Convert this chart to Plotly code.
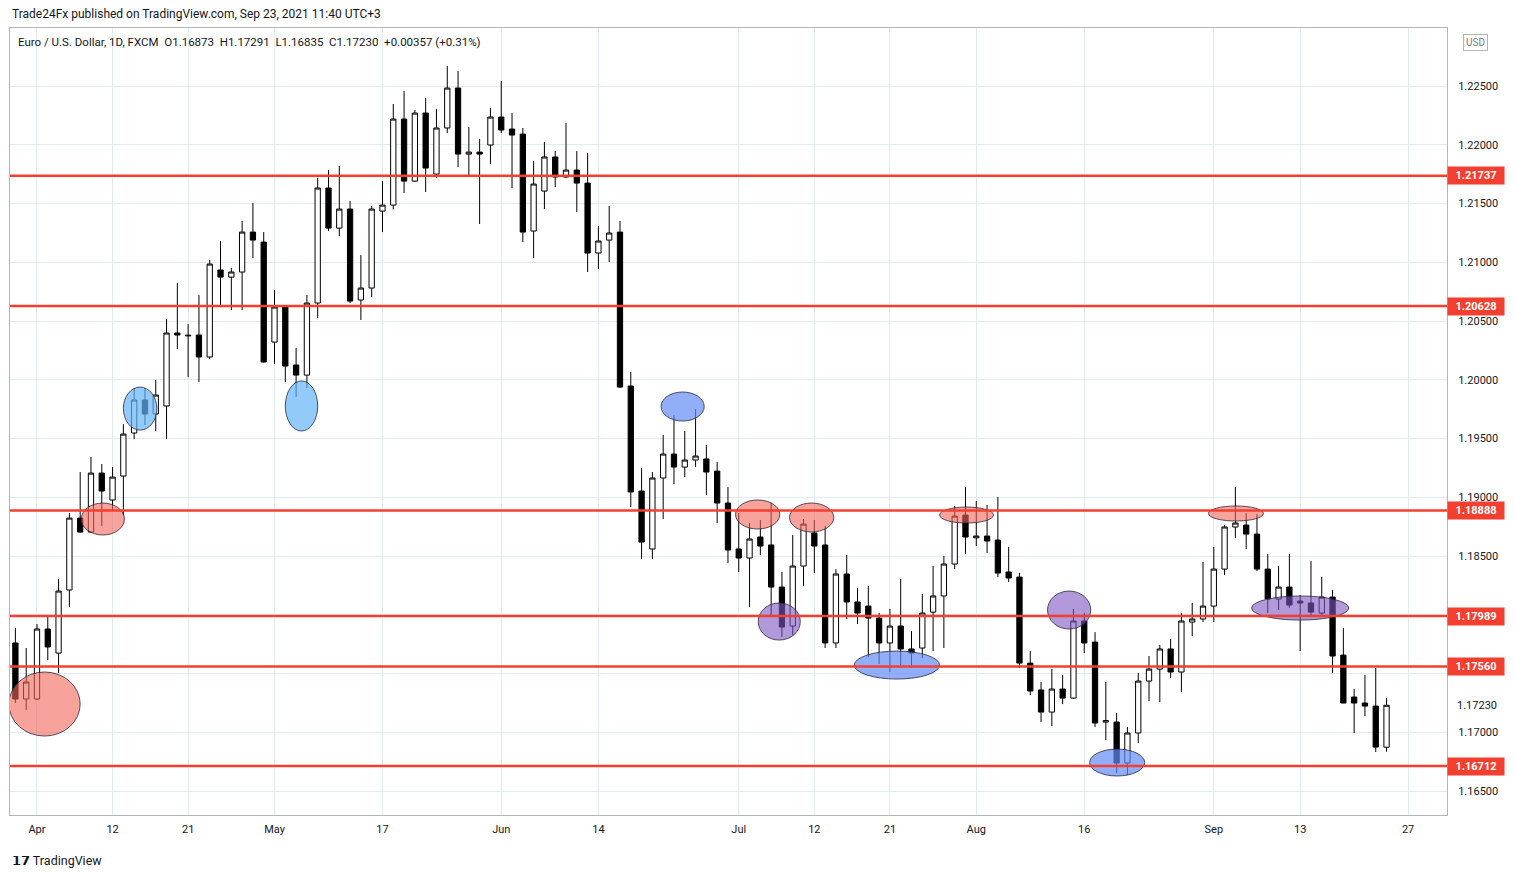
import pandas as pd
import plotly.graph_objects as go

dates = pd.bdate_range("2021-03-30", "2021-09-23")
opens = [1.1776,1.17283,1.17283,1.17879,1.17674,1.18211,1.18823,1.18704,1.19206,1.18977,
1.19181,1.19547,1.19828,1.19709,1.19777,1.20398,1.2038,1.20381,1.20194,1.20934,
1.20874,1.20917,1.21257,1.21172,1.20321,1.20619,1.20126,1.2004,1.20653,1.21632,
1.21291,1.21453,1.20679,1.20781,1.21436,1.21487,1.22219,1.21691,1.2227,1.21751,
1.22143,1.22483,1.21921,1.21938,1.21998,1.22236,1.22134,1.22091,1.21266,1.21606,
1.21896,1.21726,1.21785,1.21674,1.21079,1.21189,1.21257,1.19947,1.19053,1.1856,
1.19164,1.19368,1.19257,1.19317,1.19326,1.19223,1.18951,1.1856,1.18483,1.18662,
1.18594,1.18236,1.17904,1.18415,1.18696,1.18594,1.1776,1.18347,1.18109,1.18074,
1.17972,1.1776,1.17904,1.17709,1.17717,1.18023,1.1816,1.18432,1.18849,1.18655,
1.1867,1.18636,1.18364,1.18321,1.17589,1.1736,1.17172,1.17368,1.17291,1.17947,
1.17768,1.17087,1.17087,1.16738,1.16994,1.17436,1.17538,1.17709,1.17513,1.17938,
1.17964,1.18074,1.18389,1.18747,1.18764,1.18687,1.18389,1.18134,1.18236,1.18117,
1.181,1.18015,1.18151,1.17657,1.173,1.17249,1.17223,1.16873]
highs = [1.17887,1.17717,1.17921,1.17981,1.18304,1.18866,1.19215,1.19343,1.19283,1.19257,
1.19623,1.1993,1.1993,1.19998,1.20517,1.20823,1.20474,1.20721,1.21019,1.21181,
1.20951,1.21351,1.21504,1.21257,1.20764,1.2062,1.2027,1.20721,1.21717,1.21785,
1.21819,1.21521,1.21062,1.21479,1.21691,1.22347,1.22457,1.22296,1.22398,1.22304,
1.2267,1.22628,1.22151,1.22049,1.22313,1.22543,1.2227,1.22143,1.21862,1.22023,
1.21947,1.22185,1.21947,1.2193,1.21309,1.21479,1.21351,1.20066,1.19249,1.19215,
1.1953,1.197,1.19564,1.19751,1.19445,1.193,1.19087,1.18866,1.18781,1.18806,
1.18951,1.18364,1.18679,1.18815,1.18806,1.18755,1.18389,1.18509,1.18228,1.18245,
1.18015,1.18049,1.18304,1.17862,1.18177,1.18415,1.185,1.18926,1.19087,1.18968,
1.18934,1.19002,1.18577,1.18355,1.17691,1.17428,1.17538,1.17487,1.18049,1.18015,
1.17853,1.17428,1.17164,1.17045,1.17504,1.17649,1.17743,1.17794,1.18015,1.181,
1.18449,1.18577,1.18764,1.19087,1.18866,1.18857,1.18517,1.18415,1.18517,1.18168,
1.18457,1.18321,1.18211,1.17887,1.17368,1.17487,1.17547,1.17291]
lows = [1.1725,1.1719,1.17274,1.17615,1.17504,1.18066,1.187,1.187,1.18755,1.18891,
1.18849,1.19496,1.19615,1.19564,1.19496,1.20262,1.20023,1.19981,1.20177,1.20636,
1.20594,1.20594,1.21036,1.2015,1.20134,1.19981,1.19853,1.1993,1.20526,1.21266,
1.21223,1.20653,1.20509,1.20704,1.21257,1.2145,1.21589,1.21683,1.21598,1.21717,
1.221,1.21811,1.21743,1.21326,1.21836,1.221,1.21632,1.21172,1.21036,1.21453,
1.2164,1.21717,1.21428,1.20917,1.20943,1.21002,1.1993,1.18917,1.18474,1.18474,
1.18815,1.19113,1.19172,1.19257,1.19019,1.18781,1.1844,1.18364,1.18066,1.18509,
1.17981,1.17811,1.17828,1.18245,1.18355,1.17717,1.17717,1.17964,1.17921,1.1764,
1.17581,1.17513,1.17572,1.17547,1.17632,1.17691,1.17717,1.18389,1.18517,1.18585,
1.18526,1.18321,1.18279,1.17547,1.17317,1.17087,1.17053,1.1724,1.17283,1.17674,
1.17045,1.16934,1.16653,1.16636,1.16909,1.17266,1.17257,1.17462,1.17343,1.17819,
1.17938,1.17938,1.18338,1.18653,1.1856,1.18372,1.18015,1.1804,1.1806,1.17691,
1.17998,1.17998,1.17504,1.17249,1.16994,1.17138,1.16832,1.16835]
closes = [1.17283,1.17428,1.17879,1.17726,1.18202,1.18823,1.18704,1.19206,1.19053,1.19172,
1.19538,1.19828,1.19709,1.1987,1.20398,1.20381,1.20375,1.20194,1.20985,1.20874,
1.20917,1.21257,1.21189,1.20151,1.20619,1.20117,1.2004,1.20653,1.21632,1.21291,
1.21453,1.2067,1.20781,1.21453,1.21487,1.22219,1.21691,1.2227,1.21802,1.22143,
1.22483,1.21921,1.21938,1.21921,1.22236,1.22126,1.22083,1.21257,1.21666,1.21896,
1.21726,1.21785,1.21674,1.21079,1.21181,1.21249,1.19938,1.19045,1.18619,1.19164,
1.19368,1.19257,1.19317,1.19351,1.19215,1.18951,1.18551,1.18483,1.18645,1.18585,
1.18236,1.17896,1.18415,1.18772,1.18585,1.1776,1.18347,1.18109,1.18015,1.17972,
1.1776,1.17904,1.17709,1.17674,1.18015,1.1816,1.18432,1.1884,1.18662,1.1867,
1.18628,1.18355,1.18313,1.17589,1.17351,1.17172,1.17368,1.17291,1.17947,1.1776,
1.17079,1.171,1.16738,1.16994,1.17436,1.17538,1.17709,1.17513,1.17947,1.17964,
1.18074,1.18389,1.18747,1.18781,1.18687,1.18389,1.18134,1.18236,1.18083,1.181,
1.18023,1.18151,1.17649,1.17249,1.17249,1.17223,1.16874,1.1723]

levels = [1.21737, 1.20628, 1.18888, 1.17989, 1.17560, 1.16712]
price_ticks = [1.225, 1.22, 1.215, 1.21, 1.205, 1.2, 1.195, 1.19, 1.185, 1.18, 1.175, 1.17, 1.165]
hidden_ticks = [1.18, 1.175]
last_price = 1.17230
tick_dates = ["2021-04-01","2021-04-12","2021-04-21","2021-05-03","2021-05-17","2021-06-01",
              "2021-06-14","2021-07-01","2021-07-12","2021-07-21","2021-08-02","2021-08-16",
              "2021-09-01","2021-09-13","2021-09-27"]
tick_text = ["Apr","12","21","May","17","Jun","14","Jul","12","21","Aug","16","Sep","13","27"]

# ellipses: (x0, x1 in bar index, y0, y1 price, color)
ellipses = [
    (-0.6, 6.0, 1.16968, 1.17513, "rgba(244,100,90,0.6)"),
    (6.1, 10.1, 1.18679, 1.18951, "rgba(244,100,90,0.6)"),
    (10.0, 13.1, 1.19572, 1.19938, "rgba(100,181,246,0.7)"),
    (25.0, 28.0, 1.19564, 1.1999, "rgba(100,181,246,0.7)"),
    (59.8, 63.8, 1.19649, 1.19896, "rgba(100,140,245,0.7)"),
    (66.7, 70.8, 1.1873, 1.18977, "rgba(244,100,90,0.6)"),
    (71.7, 75.8, 1.18705, 1.18951, "rgba(244,100,90,0.6)"),
    (68.8, 72.7, 1.17785, 1.181, "rgba(126,87,194,0.6)"),
    (77.7, 85.6, 1.17453, 1.17691, "rgba(100,140,245,0.7)"),
    (85.6, 90.6, 1.18781, 1.18917, "rgba(244,100,90,0.6)"),
    (95.6, 99.6, 1.17879, 1.18202, "rgba(126,87,194,0.6)"),
    (99.5, 104.6, 1.16628, 1.16857, "rgba(100,140,245,0.7)"),
    (110.5, 115.6, 1.18798, 1.18926, "rgba(244,100,90,0.6)"),
    (114.5, 123.5, 1.17955, 1.1816, "rgba(126,87,194,0.6)"),
]

all_days = pd.bdate_range("2021-03-30", "2021-10-01")
xidx = list(range(len(dates)))
tickvals = [all_days.get_loc(pd.Timestamp(d)) for d in tick_dates]

fig = go.Figure(go.Candlestick(
    x=xidx, open=opens, high=highs, low=lows, close=closes,
    increasing=dict(line=dict(color="#000000", width=1), fillcolor="#ffffff"),
    decreasing=dict(line=dict(color="#000000", width=1), fillcolor="#000000"),
    whiskerwidth=0, showlegend=False, hoverinfo="skip"))

shapes = []
for x0, x1, y0, y1, c in ellipses:
    shapes.append(dict(type="circle", xref="x", yref="y", x0=x0, x1=x1, y0=y0, y1=y1,
                       fillcolor=c, line=dict(color="rgba(40,40,60,0.8)", width=1), layer="above"))
for lv in levels:
    shapes.append(dict(type="line", xref="paper", yref="y", x0=0, x1=1, y0=lv, y1=lv,
                       line=dict(color="#f23f2f", width=2.5), layer="above"))
fig.update_layout(shapes=shapes)

ann = []
for lv in levels:
    ann.append(dict(xref="paper", yref="y", x=1.0, y=lv, xanchor="left", yanchor="middle",
                    text="<b>%.5f</b>" % lv, showarrow=False, bgcolor="#f23f2f", width=52, align="center",
                    font=dict(color="white", size=11, family="Roboto"), borderpad=2, xshift=0))
ann += [
    dict(xref="paper", yref="y", x=1.0, y=last_price, xanchor="left", yanchor="middle", xshift=8,
         text="%.5f" % last_price, showarrow=False, font=dict(size=11, color="#131722", family="Roboto")),
    dict(xref="paper", yref="paper", x=0.0, y=1.0, yshift=14, xanchor="left", yanchor="middle",
         text="Trade24Fx published on TradingView.com, Sep 23, 2021 11:40 UTC+3", showarrow=False,
         font=dict(size=12, color="#131722", family="Roboto")),
    dict(xref="paper", yref="paper", x=0.004, y=1.0, yshift=-14, xanchor="left", yanchor="middle",
         text="Euro / U.S. Dollar, 1D, FXCM  O1.16873  H1.17291  L1.16835  C1.17230  +0.00357 (+0.31%)",
         showarrow=False, font=dict(size=11.5, color="#131722", family="Roboto")),
    dict(xref="paper", yref="paper", x=0.0, y=0, yshift=-45, xanchor="left", yanchor="middle",
         text="<b>𝟭𝟳</b> TradingView", showarrow=False,
         font=dict(size=12.5, color="#131722", family="Roboto")),
    dict(xref="paper", yref="paper", x=1.0, y=1.0, xshift=28, yshift=-14, xanchor="center", yanchor="middle",
         text="USD", showarrow=False, bordercolor="#b2b5be", borderwidth=1, borderpad=2,
         font=dict(size=10, color="#787b86", family="Roboto")),
]
fig.update_layout(annotations=ann)

fig.update_layout(
    width=1499, height=862, paper_bgcolor="white", plot_bgcolor="white",
    margin=dict(l=2, r=60, t=20, b=55),
    font=dict(family="Roboto", size=11, color="#131722"),
    xaxis=dict(range=[-0.5, 132.6], tickvals=tickvals, ticktext=tick_text, rangeslider=dict(visible=False),
               showgrid=True, gridcolor="#e1ecf2", zeroline=False, showline=True, linecolor="#b2b5be",
               mirror=True, ticks="", ticklabelstandoff=4, tickfont=dict(size=11, color="#131722")),
    yaxis=dict(range=[1.16296, 1.22994], side="right", tickvals=price_ticks,
               ticktext=["" if p in hidden_ticks else "%.5f" % p for p in price_ticks],
               showgrid=True, gridcolor="#e1ecf2", ticklabelstandoff=8,
               zeroline=False, showline=True, linecolor="#b2b5be", mirror=True, ticks="",
               tickfont=dict(size=11, color="#131722")),
)
fig.write_html("out.html")
